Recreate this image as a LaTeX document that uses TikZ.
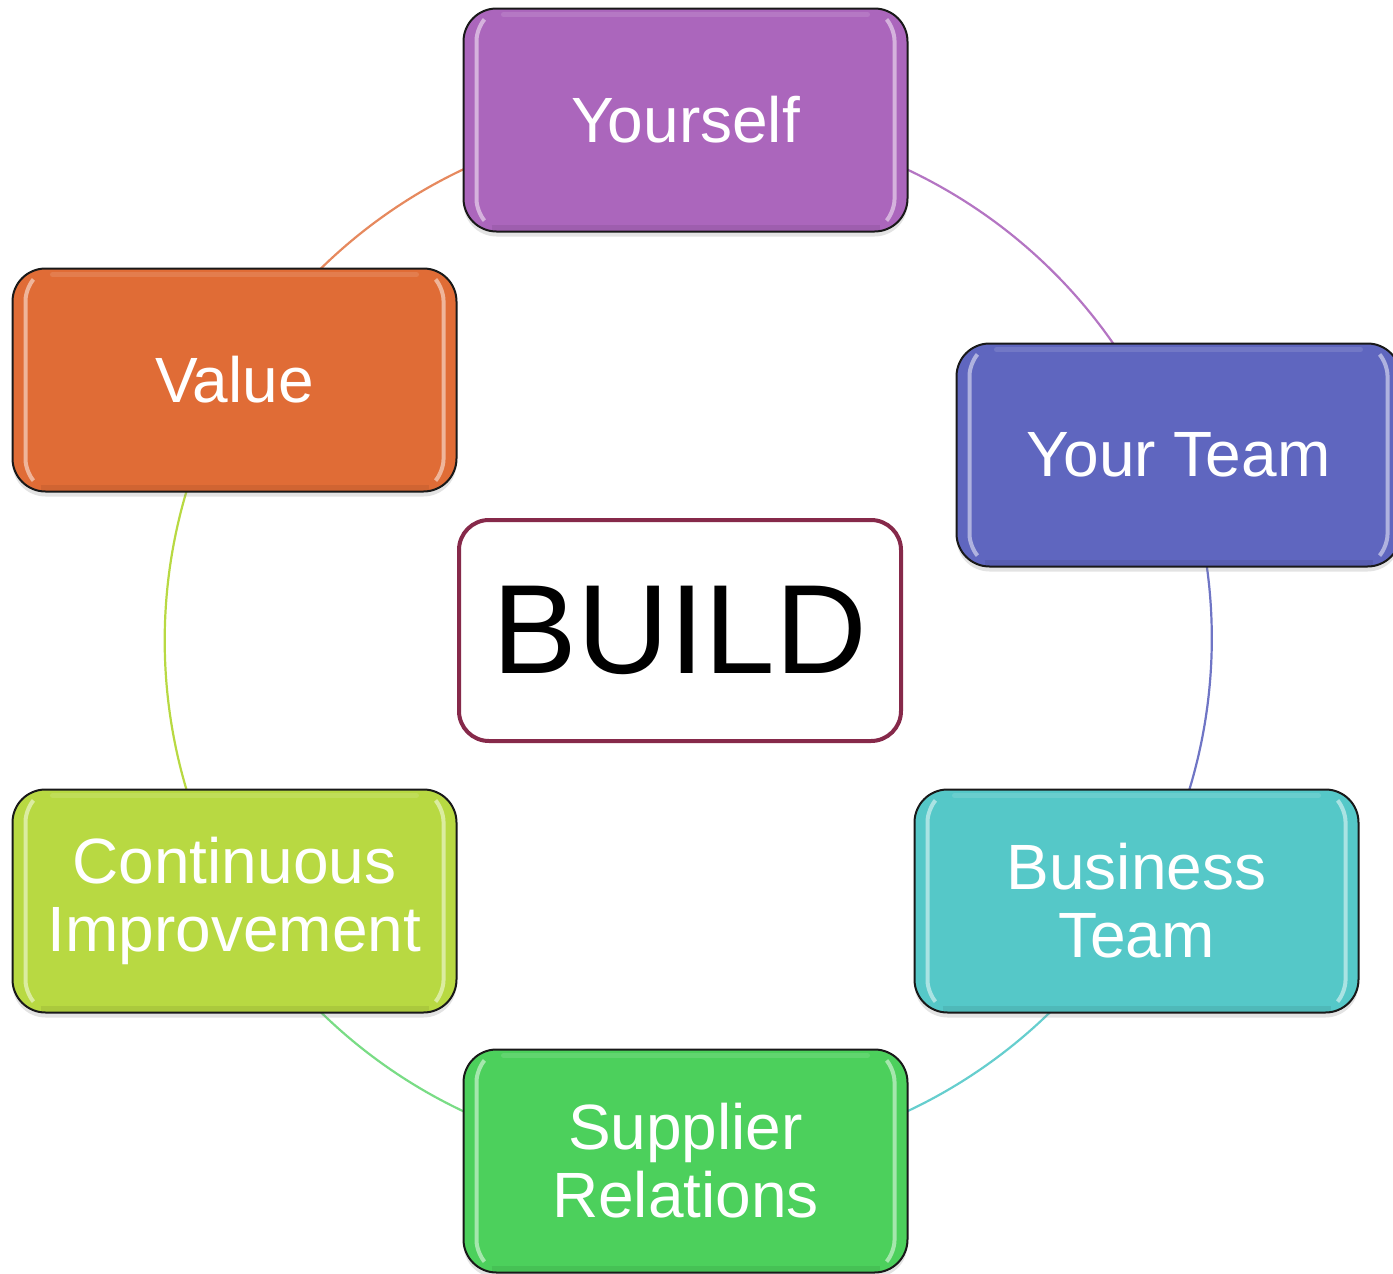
\documentclass[tikz,border=0pt]{standalone}
\usepackage{fontspec}
\setmainfont{Liberation Sans}
\usetikzlibrary{backgrounds,shadows}
\definecolor{cpurple}{HTML}{AB66BC}
\definecolor{cblue}{HTML}{5F66BF}
\definecolor{cteal}{HTML}{55C8C8}
\definecolor{cgreen}{HTML}{4CD05C}
\definecolor{cyellow}{HTML}{B8D942}
\definecolor{corange}{HTML}{E06C36}
\definecolor{cbuild}{HTML}{86294A}
\begin{document}
\begin{tikzpicture}[x=0.5pt,y=0.5pt,
  box/.style={draw=black!90, line width=1pt, rounded corners=16.5pt,
    minimum width=222pt, minimum height=111.5pt, inner sep=0pt,
    text=white, align=center, font=\fontsize{32}{34}\selectfont,
    drop shadow={opacity=0.22, shadow xshift=0pt, shadow yshift=-2.5pt},
    path picture={
      \draw[white, opacity=0.5, line width=2pt, line cap=round, rounded corners=6pt]
        ([shift={(10pt,-6pt)}]path picture bounding box.north west) --
        ([shift={(6.5pt,-10pt)}]path picture bounding box.north west) --
        ([shift={(6.5pt,10pt)}]path picture bounding box.south west) --
        ([shift={(10pt,6pt)}]path picture bounding box.south west);
      \draw[white, opacity=0.5, line width=2pt, line cap=round, rounded corners=6pt]
        ([shift={(-10pt,-6pt)}]path picture bounding box.north east) --
        ([shift={(-6.5pt,-10pt)}]path picture bounding box.north east) --
        ([shift={(-6.5pt,10pt)}]path picture bounding box.south east) --
        ([shift={(-10pt,6pt)}]path picture bounding box.south east);
      \draw[white, opacity=0.12, line width=2.5pt, line cap=round]
        ([shift={(20pt,-3pt)}]path picture bounding box.north west) --
        ([shift={(-20pt,-3pt)}]path picture bounding box.north east);
      \draw[black, opacity=0.07, line width=3pt]
        ([shift={(14pt,2pt)}]path picture bounding box.south west) --
        ([shift={(-14pt,2pt)}]path picture bounding box.south east);
    }},
  arcline/.style={line width=1.1pt}]
\useasboundingbox (0,0) rectangle (1393,-1274);

\node[box, fill=cpurple] (yourself) at (685.5,-120) {Yourself};
\node[box, fill=cblue]   (yourteam) at (1178.5,-455) {Your Team};
\node[box, fill=cteal]   (business) at (1136.5,-901) {Business\\Team};
\node[box, fill=cgreen]  (supplier) at (685.5,-1161) {Supplier\\Relations};
\node[box, fill=cyellow] (continuous) at (234.5,-901) {Continuous\\Improvement};
\node[box, fill=corange] (value) at (234.5,-380) {Value};

\node[draw=cbuild, line width=2pt, rounded corners=15pt, fill=white,
      minimum width=221pt, minimum height=110.5pt, inner sep=0pt,
      font=\fontsize{63.5}{65}\selectfont] (build) at (680,-630.5) {BUILD};

\begin{scope}[on background layer]
  \draw[arcline, cpurple!90!white] (yourself.center) arc[start angle=90, end angle=20.6, radius=521];
  \draw[arcline, cblue!90!white] (yourteam.center) arc[start angle=20.6, end angle=-30.1, radius=521];
  \draw[arcline, cteal!90!white] (business.center) arc[start angle=-30.1, end angle=-90, radius=521];
  \draw[arcline, cgreen!75!white] (supplier.center) arc[start angle=-90, end angle=-150, radius=521];
  \draw[arcline, cyellow] (continuous.center) arc[start angle=210, end angle=150, radius=521];
  \draw[arcline, corange!80!white] (value.center) arc[start angle=150, end angle=90, radius=521];
\end{scope}
\end{tikzpicture}
\end{document}
